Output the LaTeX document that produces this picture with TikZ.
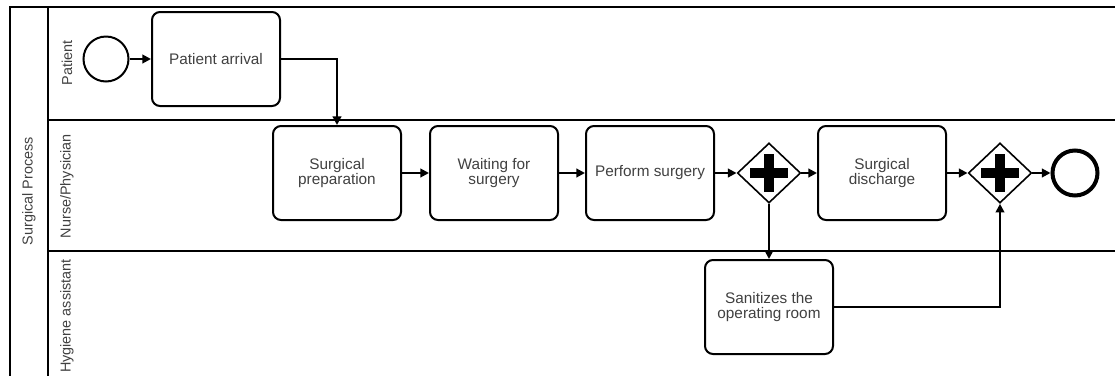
\documentclass[tikz,border=0pt]{standalone}
\usepackage{fontspec}
\setmainfont{Liberation Sans}
\usetikzlibrary{shapes.geometric,arrows.meta}
\definecolor{txt}{HTML}{404040}
\begin{document}
\begin{tikzpicture}[x=0.75pt,y=-0.75pt,
  lbl/.style={text=txt, font=\fontsize{11.5}{11.8}\selectfont},
  lanelbl/.style={text=txt, font=\fontsize{10.8}{11}\selectfont, rotate=90},
  task/.style={draw, rounded corners=6pt, line width=1.5pt, minimum width=96pt, minimum height=70.5pt, align=center, inner sep=2pt, lbl},
  pool/.style={line width=1.5pt},
  flow/.style={-{Triangle[length=6.5pt,width=6.5pt]}, line width=1.5pt},
  startev/.style={circle, draw, line width=1.5pt, minimum size=33.75pt, inner sep=0pt},
  endev/.style={circle, draw, line width=3pt, minimum size=33.75pt, inner sep=0pt},
  gw/.style={diamond, draw, line width=1.2pt, minimum width=47.5pt, minimum height=45pt, inner sep=0pt,
    path picture={
      \fill (path picture bounding box.center) ++(-14.6pt,-3.5pt) rectangle ++(29.2pt,7pt);
      \fill (path picture bounding box.center) ++(-3.5pt,-13.9pt) rectangle ++(7pt,27.8pt);}}
]
\useasboundingbox (0,0) rectangle (1115,376);
% pool and lanes
\draw[pool] (1115,7) -- (10,7) -- (10,376);
\draw[pool] (48,7) -- (48,376);
\draw[pool] (48,120) -- (1115,120);
\draw[pool] (48,251) -- (1115,251);
\node[lanelbl] (pl) at (29,191) {Surgical Process};
\node[lanelbl] (l1) at (67,63) {Patient};
\node[lanelbl] (l2) at (67,186) {Nurse/Physician};
\node[lanelbl] (l3) at (67,316) {Hygiene assistant};
% events and tasks
\node[startev] (st) at (106,59) {};
\node[task] (pa) at (216,59) {Patient arrival};
\node[task] (sp) at (337,173) {Surgical\\preparation};
\node[task] (wf) at (494,173) {Waiting for\\surgery};
\node[task] (ps) at (650,173) {Perform surgery};
\node[gw] (g1) at (769,173) {};
\node[task] (sd) at (882,173) {Surgical\\discharge};
\node[gw] (g2) at (1000,173) {};
\node[endev] (en) at (1075,173) {};
\node[task] (sr) at (769,307) {Sanitizes the\\operating room};
% flows
\draw[flow] (st) -- (pa);
\draw[flow] (pa.east) -| (sp.north);
\draw[flow] (sp) -- (wf);
\draw[flow] (wf) -- (ps);
\draw[flow] (ps) -- (g1);
\draw[flow] (g1) -- (sd);
\draw[flow] (sd) -- (g2);
\draw[flow] (g2) -- (en);
\draw[flow] (g1) -- (sr);
\draw[flow] (sr.east) -| (g2.south);
\end{tikzpicture}
\end{document}
